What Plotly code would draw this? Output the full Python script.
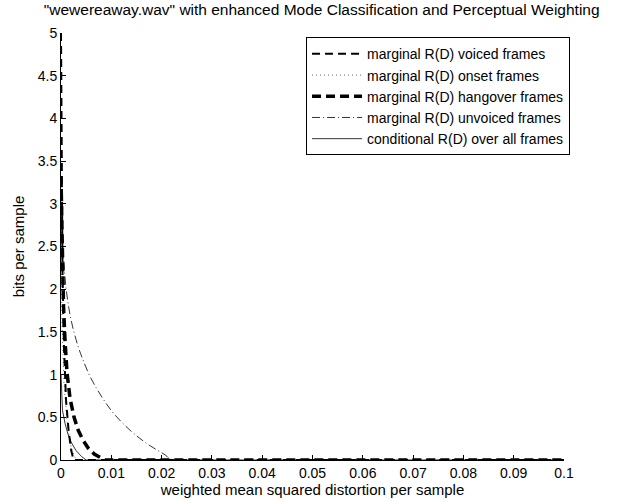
import plotly.graph_objects as go

# Data
voiced_x = [0, 0.0001, 0.0003, 0.0006, 0.001, 0.0015, 0.002, 0.0025, 0.1]
voiced_y = [5, 3.5, 2.2, 1.3, 0.7, 0.35, 0.12, 0, 0]

onset_x = [0, 0.0002, 0.0006, 0.0012, 0.002, 0.003, 0.1]
onset_y = [2.6, 1.6, 0.9, 0.45, 0.15, 0, 0]

hangover_x = [0, 0.0002, 0.0005, 0.0008, 0.0012, 0.0018, 0.0026, 0.0034, 0.0044, 0.0054, 0.0066, 0.0081, 0.0088, 0.1]
hangover_y = [3.3, 2.5, 1.8, 1.4, 1.02, 0.72, 0.5, 0.35, 0.23, 0.14, 0.07, 0.02, 0, 0]

unvoiced_x = [0, 0.0004, 0.00105, 0.002, 0.0034, 0.0044, 0.0058, 0.0081, 0.0104, 0.0137, 0.017, 0.0207, 0.0222, 0.1]
unvoiced_y = [2.85, 2.46, 1.99, 1.64, 1.33, 1.17, 0.975, 0.74, 0.55, 0.35, 0.195, 0.06, 0, 0]

cond_x = [0, 0.0001, 0.0003, 0.0008, 0.0014, 0.0021, 0.003, 0.0041, 0.005, 0.1]
cond_y = [1.0, 0.75, 0.58, 0.43, 0.3, 0.2, 0.11, 0.04, 0, 0]

x_ticks = [0, 0.01, 0.02, 0.03, 0.04, 0.05, 0.06, 0.07, 0.08, 0.09, 0.1]
x_tick_labels = ["0", "0.01", "0.02", "0.03", "0.04", "0.05", "0.06", "0.07", "0.08", "0.09", "0.1"]
y_ticks = [0, 0.5, 1, 1.5, 2, 2.5, 3, 3.5, 4, 4.5, 5]
y_tick_labels = ["0", "0.5", "1", "1.5", "2", "2.5", "3", "3.5", "4", "4.5", "5"]

fig = go.Figure()
fig.add_trace(go.Scatter(x=voiced_x, y=voiced_y, mode="lines",
                         name="marginal R(D) voiced frames",
                         line=dict(color="black", width=2, dash="8px,5px")))
fig.add_trace(go.Scatter(x=onset_x, y=onset_y, mode="lines",
                         name="marginal R(D) onset frames",
                         line=dict(color="black", width=0.6, dash="1px,3px")))
fig.add_trace(go.Scatter(x=hangover_x, y=hangover_y, mode="lines",
                         name="marginal R(D) hangover frames",
                         line=dict(color="black", width=3.5, dash="9px,5px")))
fig.add_trace(go.Scatter(x=unvoiced_x, y=unvoiced_y, mode="lines", line_shape="spline",
                         name="marginal R(D) unvoiced frames",
                         line=dict(color="black", width=0.8, dash="8px,3px,1px,3px")))
fig.add_trace(go.Scatter(x=cond_x, y=cond_y, mode="lines",
                         name="conditional R(D) over all frames",
                         line=dict(color="black", width=0.8)))

font = "Liberation Sans, Arial, sans-serif"
fig.update_layout(
    width=621, height=501,
    margin=dict(l=61, r=57, t=33, b=41, autoexpand=False),
    plot_bgcolor="white", paper_bgcolor="white",
    font=dict(family=font, size=14, color="black"),
    title=dict(text='"wewereaway.wav" with enhanced Mode Classification and Perceptual Weighting',
               x=0.518, xanchor="center", y=0.992, yanchor="top",
               font=dict(family=font, size=15.5, color="black")),
    xaxis=dict(range=[0, 0.1], tickvals=x_ticks, ticktext=x_tick_labels,
               showgrid=False, zeroline=False, showline=True, linecolor="black",
               linewidth=1, ticks="inside", ticklen=5, tickcolor="black",
               title=dict(text="weighted mean squared distortion per sample",
                          standoff=1, font=dict(size=15))),
    yaxis=dict(range=[0, 5], tickvals=y_ticks, ticktext=y_tick_labels,
               showgrid=False, zeroline=False, showline=True, linecolor="black",
               linewidth=1, ticks="inside", ticklen=5, tickcolor="black",
               title=dict(text="bits per sample", standoff=9, font=dict(size=15))),
    legend=dict(x=1.012, xanchor="right", y=0.99, yanchor="top",
                bordercolor="black", borderwidth=1, bgcolor="white",
                font=dict(size=14), tracegroupgap=0, itemwidth=50),
    showlegend=True,
)

fig.write_html("out.html", config={"displayModeBar": False},
               post_script="document.body.style.margin='0';")
